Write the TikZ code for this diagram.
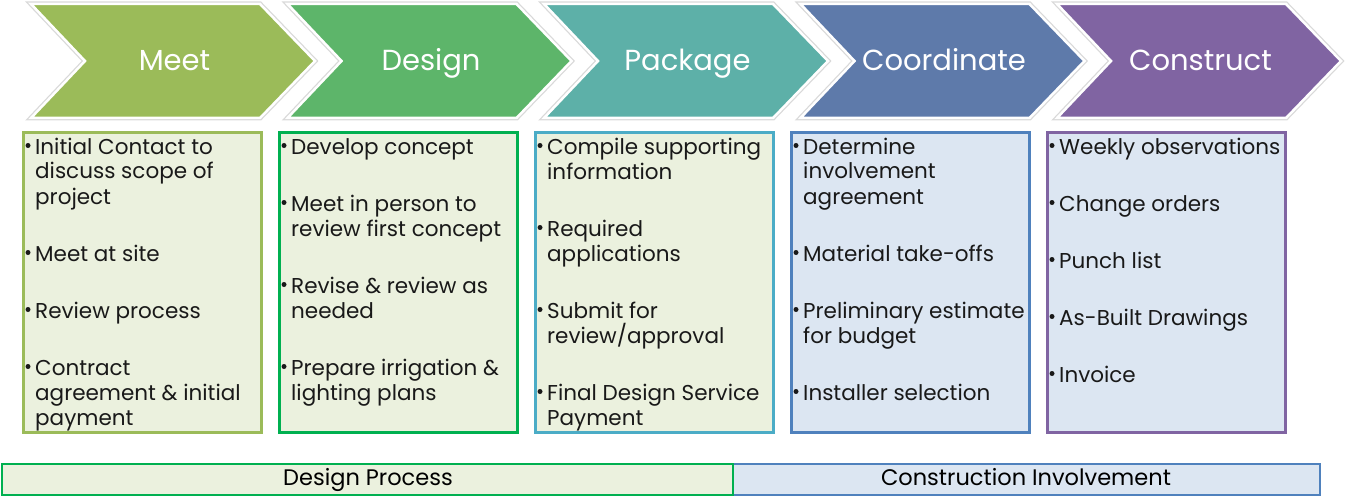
\documentclass[tikz,border=0pt]{standalone}
\usepackage{fontspec}
\setmainfont{Poppins}
\definecolor{meetC}{HTML}{9BBB59}
\definecolor{designC}{HTML}{5DB56A}
\definecolor{packageC}{HTML}{5DB0A8}
\definecolor{coordC}{HTML}{5E7AAA}
\definecolor{constructC}{HTML}{8064A2}
\definecolor{meetB}{HTML}{9BBB59}
\definecolor{designB}{HTML}{00B050}
\definecolor{packageB}{HTML}{4BACC6}
\definecolor{coordB}{HTML}{4F81BD}
\definecolor{constructB}{HTML}{8064A2}
\definecolor{greenFill}{HTML}{EBF1DE}
\definecolor{blueFill}{HTML}{DCE6F2}
\begin{document}
\begin{tikzpicture}[x=1pt,y=-1pt,
  chevshadow/.style={draw=black!15, line width=5pt, line join=miter},
  chev/.style={fill=#1, draw=white, line width=2.5pt, line join=miter},
  heading/.style={text=white, font=\fontsize{29}{33}\selectfont, anchor=base, inner sep=0pt},
  stagebox/.style={draw=#1, line width=3pt},
  item/.style={anchor=base west, align=left, inner sep=0pt, text=black!90,
    font=\fontsize{21.5}{25}\selectfont},
  bullet/.style={fill=black!90},
  barbox/.style={draw=#1, line width=2pt},
  bartext/.style={anchor=base, inner sep=0pt, font=\fontsize{22.5}{26}\selectfont}]
\useasboundingbox (0,0) rectangle (1346,500);
% chevrons
\foreach \i/\c/\t in {0/meetC/Meet,1/designC/Design,2/packageC/Package,3/coordC/Coordinate,4/constructC/Construct}{
  \pgfmathsetmacro\x{31+256.5*\i}
  \draw[chevshadow] (\x,4) -- ++(229,0) -- ++(55,57) -- ++(-55,57) -- ++(-229,0) -- ++(54,-57) -- cycle;
  \draw[chev=\c] (\x,4) -- ++(229,0) -- ++(55,57) -- ++(-55,57) -- ++(-229,0) -- ++(54,-57) -- cycle;
  \node[heading] (h\i) at (\x+143.5,71) {\t};
}
% boxes
\foreach \i/\b/\f in {0/meetB/greenFill,1/designB/greenFill,2/packageB/greenFill,3/coordB/blueFill,4/constructB/blueFill}{
  \pgfmathsetmacro\x{23+256*\i}
  \draw[stagebox=\b, fill=\f] (\x,133) rectangle (\x+238,432);
}
% items: first-line baseline / number of lines / text
\newcommand\stageitems[2]{%
  \pgfmathsetmacro\lx{35+256*#1}
  \foreach \y/\n/\t [count=\k] in {#2}{
    \node[item] (s#1i\k) at (\lx,\y+25*\n-25) {\t};
    \fill[bullet] (\lx-7,\y-8.5) circle (2.5pt);
  }
}
\stageitems{0}{154/3/{Initial Contact to\\discuss scope of\\project},261/1/{Meet at site},318/1/{Review process},375/3/{Contract\\agreement \& initial\\payment}}
\stageitems{1}{154/1/{Develop concept},211/2/{Meet in person to\\review first concept},293/2/{Revise \& review as\\needed},375/2/{Prepare irrigation \&\\lighting plans}}
\stageitems{2}{154/2/{Compile supporting\\information},236/2/{Required\\applications},318/2/{Submit for\\review/approval},400/2/{Final Design Service\\Payment}}
\stageitems{3}{154/3/{Determine\\involvement\\agreement},261/1/{Material take-offs},318/2/{Preliminary estimate\\for budget},400/1/{Installer selection}}
\stageitems{4}{154/1/{Weekly observations},211/1/{Change orders},268/1/{Punch list},325/1/{As-Built Drawings},382/1/{Invoice}}
% bottom bar
\draw[barbox=coordB, fill=blueFill] (733,464) rectangle (1320,495);
\draw[barbox=designB, fill=greenFill] (2,464) rectangle (733,495);
\node[bartext] (dp) at (368,485) {Design Process};
\node[bartext] (ci) at (1026,485) {Construction Involvement};
\end{tikzpicture}
\end{document}
